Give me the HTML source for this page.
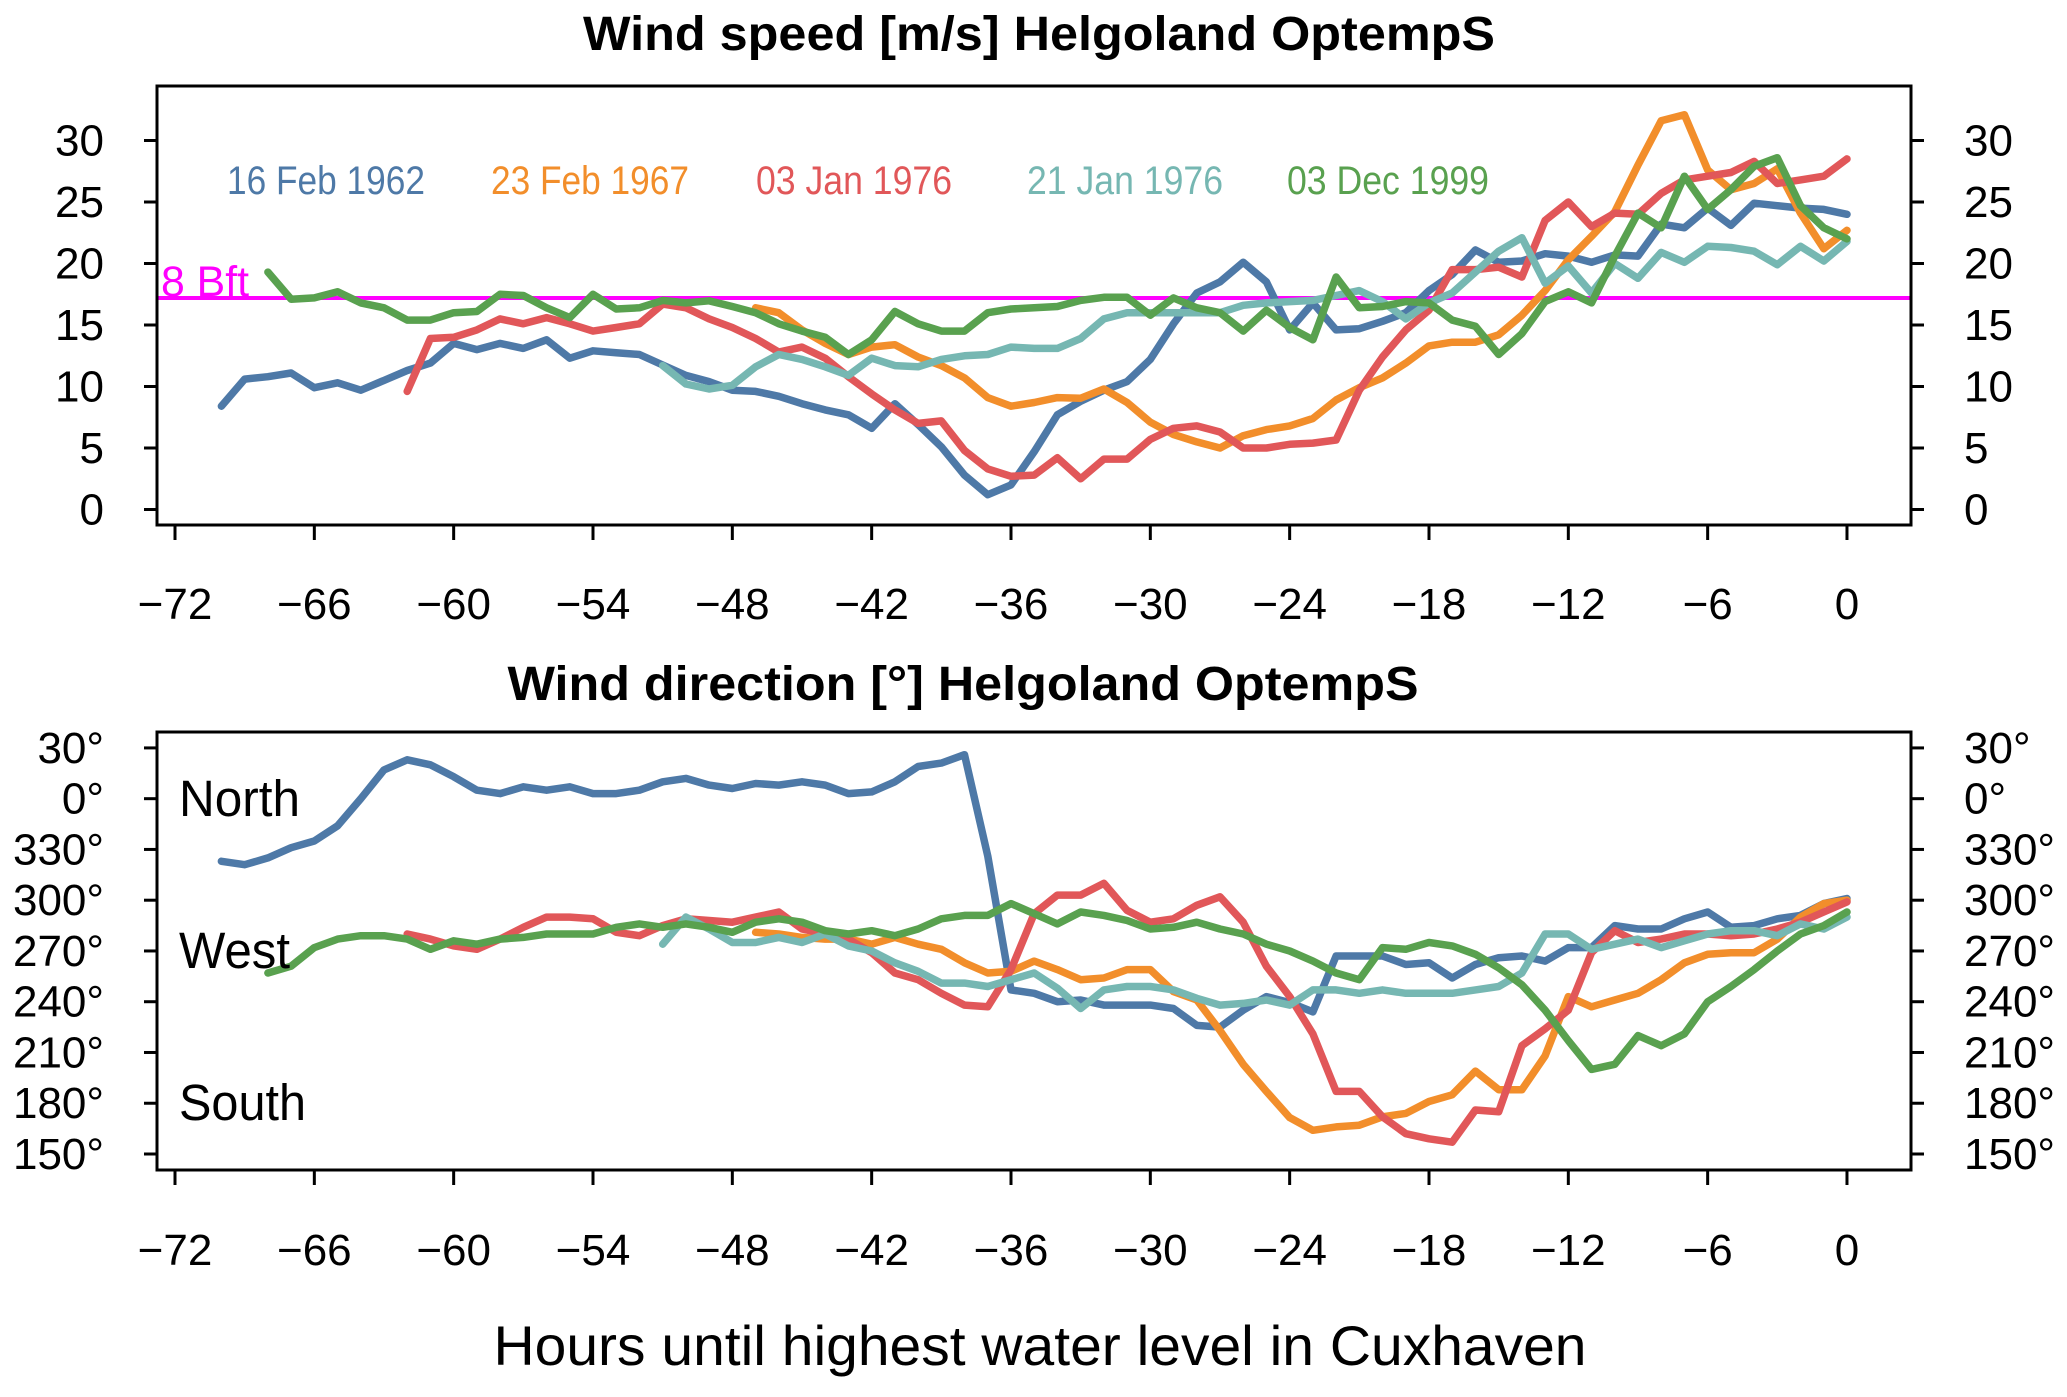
<!DOCTYPE html>
<html><head><meta charset="utf-8"><style>
html,body{margin:0;padding:0;background:#fff;}
svg{display:block;font-family:"Liberation Sans",Arial,sans-serif;}
</style></head><body>
<svg id="chart" width="2067" height="1397" viewBox="0 0 2067 1397" xmlns="http://www.w3.org/2000/svg">
<rect x="0" y="0" width="2067" height="1397" fill="#fff"/>
<text x="1039" y="50" text-anchor="middle" font-size="48" font-weight="bold" textLength="912" lengthAdjust="spacingAndGlyphs">Wind speed [m/s] Helgoland OptempS</text>
<text x="963" y="700" text-anchor="middle" font-size="48" font-weight="bold" textLength="911" lengthAdjust="spacingAndGlyphs">Wind direction [°] Helgoland OptempS</text>
<text x="1040" y="1365" text-anchor="middle" font-size="56" textLength="1093" lengthAdjust="spacingAndGlyphs">Hours until highest water level in Cuxhaven</text>
<g id="top"></g>
<g id="bottom"></g>
<g id="legend">
<text x="227" y="194" font-size="40" fill="#4e79a7" textLength="198" lengthAdjust="spacingAndGlyphs">16 Feb 1962</text>
<text x="491" y="194" font-size="40" fill="#f28e2b" textLength="198" lengthAdjust="spacingAndGlyphs">23 Feb 1967</text>
<text x="756" y="194" font-size="40" fill="#e15759" textLength="196" lengthAdjust="spacingAndGlyphs">03 Jan 1976</text>
<text x="1027" y="194" font-size="40" fill="#76b7b2" textLength="196" lengthAdjust="spacingAndGlyphs">21 Jan 1976</text>
<text x="1287" y="194" font-size="40" fill="#59a14f" textLength="202" lengthAdjust="spacingAndGlyphs">03 Dec 1999</text>
</g>
<text x="179" y="816" font-size="51" textLength="121" lengthAdjust="spacingAndGlyphs">North</text>
<text x="179" y="968" font-size="51" textLength="111" lengthAdjust="spacingAndGlyphs">West</text>
<text x="179" y="1120" font-size="51" textLength="127" lengthAdjust="spacingAndGlyphs">South</text>
</svg>
<script>
const xTicks = [-72,-66,-60,-54,-48,-42,-36,-30,-24,-18,-12,-6,0];
const speedTicks = [0,5,10,15,20,25,30];
const dirTicks = [390,360,330,300,270,240,210,180,150];
const dirTickLabels = ["30°","0°","330°","300°","270°","240°","210°","180°","150°"];
const beaufort8 = 17.2;
const seriesNames = ["16 Feb 1962","23 Feb 1967","03 Jan 1976","21 Jan 1976","03 Dec 1999"];
const seriesColors = ["#4e79a7","#f28e2b","#e15759","#76b7b2","#59a14f"];
const seriesStart = [-70,-47,-62,-51,-68];
const speed1962 = [8.4,10.6,10.8,11.1,9.9,10.3,9.7,10.5,11.3,11.9,13.5,13.0,13.5,13.1,13.8,12.3,12.9,12.75,12.6,11.75,10.9,10.4,9.7,
 9.6,9.2,8.6,8.1,7.7,6.6,8.6,6.9,5.1,2.8,1.2,2.0,4.7,7.7,8.8,9.7,10.4,12.2,15.1,17.6,18.5,20.1,18.5,14.6,
 16.8,14.6,14.7,15.3,16.0,17.8,19.1,21.1,20.1,20.2,20.8,20.6,20.1,20.7,20.6,23.2,22.9,24.5,23.1,24.9,24.7,24.5,24.4,24.0];
const speed1967 = [16.4,16.0,14.6,13.5,12.6,13.2,13.4,12.4,11.7,10.7,9.1,8.4,8.7,9.1,9.05,9.8,8.7,7.1,6.1,5.5,5.0,6.0,6.5,6.8,
 7.4,8.9,9.9,10.7,11.9,13.3,13.6,13.6,14.2,15.8,17.8,20.3,22.2,24.2,28.0,31.6,32.1,27.6,26.0,26.5,27.7,24.1,21.2,22.7];
const speedJan1976 = [9.6,13.9,14.0,14.6,15.5,15.1,15.6,15.1,14.5,14.8,15.1,16.7,16.4,15.5,14.8,
 13.9,12.8,13.2,12.3,10.8,9.4,8.1,7.0,7.2,4.8,3.3,2.7,2.8,4.2,2.5,4.1,4.1,5.7,6.6,6.8,6.3,5.0,5.0,5.3,
 5.4,5.65,9.7,12.4,14.6,16.2,19.5,19.5,19.7,18.9,23.5,25.0,23.0,24.1,24.0,25.7,26.8,27.1,27.4,28.3,26.5,26.8,27.1,28.5];
const speed21Jan1976 = [11.7,10.2,9.8,10.1,
 11.6,12.6,12.2,11.6,10.9,12.3,11.7,11.6,12.2,12.5,12.6,13.2,13.1,13.1,13.9,15.5,16.0,16.0,16.0,16.0,16.0,16.6,16.8,16.9,
 17.0,17.4,17.8,16.9,15.5,16.8,17.6,19.3,21.0,22.1,18.4,19.8,17.6,20.0,18.8,20.9,20.1,21.4,21.3,21.0,19.9,21.4,20.2,21.8];
const speed1999 = [19.3,17.1,17.2,17.7,16.8,16.4,15.4,15.4,16.0,16.1,17.5,17.4,16.4,15.6,17.5,16.3,16.4,17.0,16.8,16.97,16.5,
 16.0,15.1,14.5,14.0,12.6,13.8,16.1,15.1,14.5,14.5,16.0,16.3,16.4,16.5,17.0,17.25,17.25,15.8,17.2,16.4,16.0,14.5,16.2,14.8,
 13.8,18.9,16.4,16.5,16.9,16.8,15.4,14.9,12.6,14.3,16.9,17.7,16.8,20.6,24.1,22.9,27.1,24.4,26.0,27.9,28.6,24.7,22.9,22.0];
const dir1962 = [323,321,325,331,335,344,0,17,23,20,13,5,3,7,5,7,3,3,5,10,12,8,6,
 9,8,10,8,3,4,10,19,21,26,326,247,245,240,241,238,238,238,236,226,225,235,243,239.5,
 234,267,267,267,262,263,254,262,266,267,264,272,272,285,283,283,289,293,284,285,289,291,298,301];
const dir1967 = [281,280,278,277,277,274,278,274,271,263,257,258,264,259,253,254,259,259,246,241,223,203,187,171.5,
 164,166,167,172,174,181,185,199,188,188,208,243,237,241,245,253,263,268,269,269,277,290,298,300];
const dirJan1976 = [280,277,273,271,277,284,290,290,289,281,279,285,289,288,287,
 290,293,283,280,277,269,257,253,245,238,237,259,292,303,303,310,294,287,289,297,302,287,261,243,
 221,187,187,172,162,159,157,176,175,214,224,235,269,282,275,277,280,280,279,280,283,287,293,299];
const dir21Jan1976 = [274,290,283,275,
 275,278,275,280,273,270,263,258,251,251,249,253,257,248,236,247,249,249,247,242,238,239,241,238,
 247,247,245,247,245,245,245,247,249,257,280,280,271,274,277,272,276,280,282,282,279,286,283,290];
const dir1999 = [257,261,272,277,279,279,277,271,276,274,277,278,280,280,280,284,286,284,286,284,281,
 287,289,287,282,280,282,279,283,289,291,291,298,292,286,293,291,288,283,284,287,283,280,274,270,
 264,257,253,272,271,275,273,268,260,250,235,217,200,203,220,214,221,240,249,259,270,280,285,293];
const speedSeries = [speed1962,speed1967,speedJan1976,speed21Jan1976,speed1999];
const dirSeries = [dir1962,dir1967,dirJan1976,dir21Jan1976,dir1999];
const seriesKeys = ["feb1962","feb1967","jan1976","jan21-1976","dec1999"];

const NS="http://www.w3.org/2000/svg";
const xL=157,xR=1911;
function xScale(h){return 175+(h+72)*23.222;}
function ySpeed(v){return 509.5-v*12.3;}
function yDir(v){return 1154-(v-150)*1.692;}
function unwrap(d){return d<120?d+360:d;}
function mk(tag,attrs,parent){const e=document.createElementNS(NS,tag);for(const k in attrs)e.setAttribute(k,attrs[k]);parent.appendChild(e);return e;}

function panel(g,top,bot,key,ticksVals,ticksLabels,yfn,series,mapV,xlabY,tickY0){
  const box=mk('rect',{x:xL,y:top,width:xR-xL,height:bot-top,fill:'none',stroke:'#000','stroke-width':3},g);
  
  
  ticksVals.forEach((v,i)=>{
    const y=yfn(v);
    const tl=mk('line',{x1:xL-13,x2:xL,y1:y,y2:y,stroke:'#000','stroke-width':3},g);
    
    
    const tr=mk('line',{x1:xR,x2:xR+13,y1:y,y2:y,stroke:'#000','stroke-width':3},g);
    
    
    const a=mk('text',{x:104,y:y+15,'text-anchor':'end','font-size':44},g);
    a.textContent=ticksLabels[i];
    
    
    const b=mk('text',{x:1964,y:y+15,'font-size':44},g);
    b.textContent=ticksLabels[i];
    
    
  });
  xTicks.forEach(h=>{
    const x=xScale(h);
    const t=mk('line',{x1:x,x2:x,y1:bot,y2:bot+tickY0,stroke:'#000','stroke-width':3},g);
    
    
    const l=mk('text',{x:x,y:xlabY,'text-anchor':'middle','font-size':44},g);
    l.textContent=(h<0?'\u2212'+(-h):String(h));
    
    
  });
  const clip=mk('clipPath',{id:'clip-'+key},g);
  mk('rect',{x:xL,y:top,width:xR-xL,height:bot-top},clip);
  series.forEach((vals,si)=>{
    const d=vals.map((v,i)=>(i?'L':'M')+xScale(seriesStart[si]+i).toFixed(1)+','+yfn(mapV(v)).toFixed(1)).join(' ');
    const p=mk('path',{d:d,fill:'none',stroke:seriesColors[si],'stroke-width':7.5,'stroke-linejoin':'round','stroke-linecap':'round','clip-path':'url(#clip-'+key+')'},g);
    
    
  });
}
const gt=document.getElementById('top');
const gb=document.getElementById('bottom');
const bl=mk('line',{x1:xL,x2:xR,y1:ySpeed(beaufort8),y2:ySpeed(beaufort8),stroke:'#ff00ff','stroke-width':4},gt);


const bt=mk('text',{x:161,y:ySpeed(beaufort8)-2,'font-size':43,fill:'#ff00ff',textLength:88,lengthAdjust:'spacingAndGlyphs'},gt);
bt.textContent='8 Bft';


panel(gt,86,525,'speed',speedTicks,speedTicks.map(String),ySpeed,speedSeries,v=>v,619,15);
panel(gb,732,1170,'direction',dirTicks,dirTickLabels,yDir,dirSeries,unwrap,1265,15);
</script>
</body></html>
